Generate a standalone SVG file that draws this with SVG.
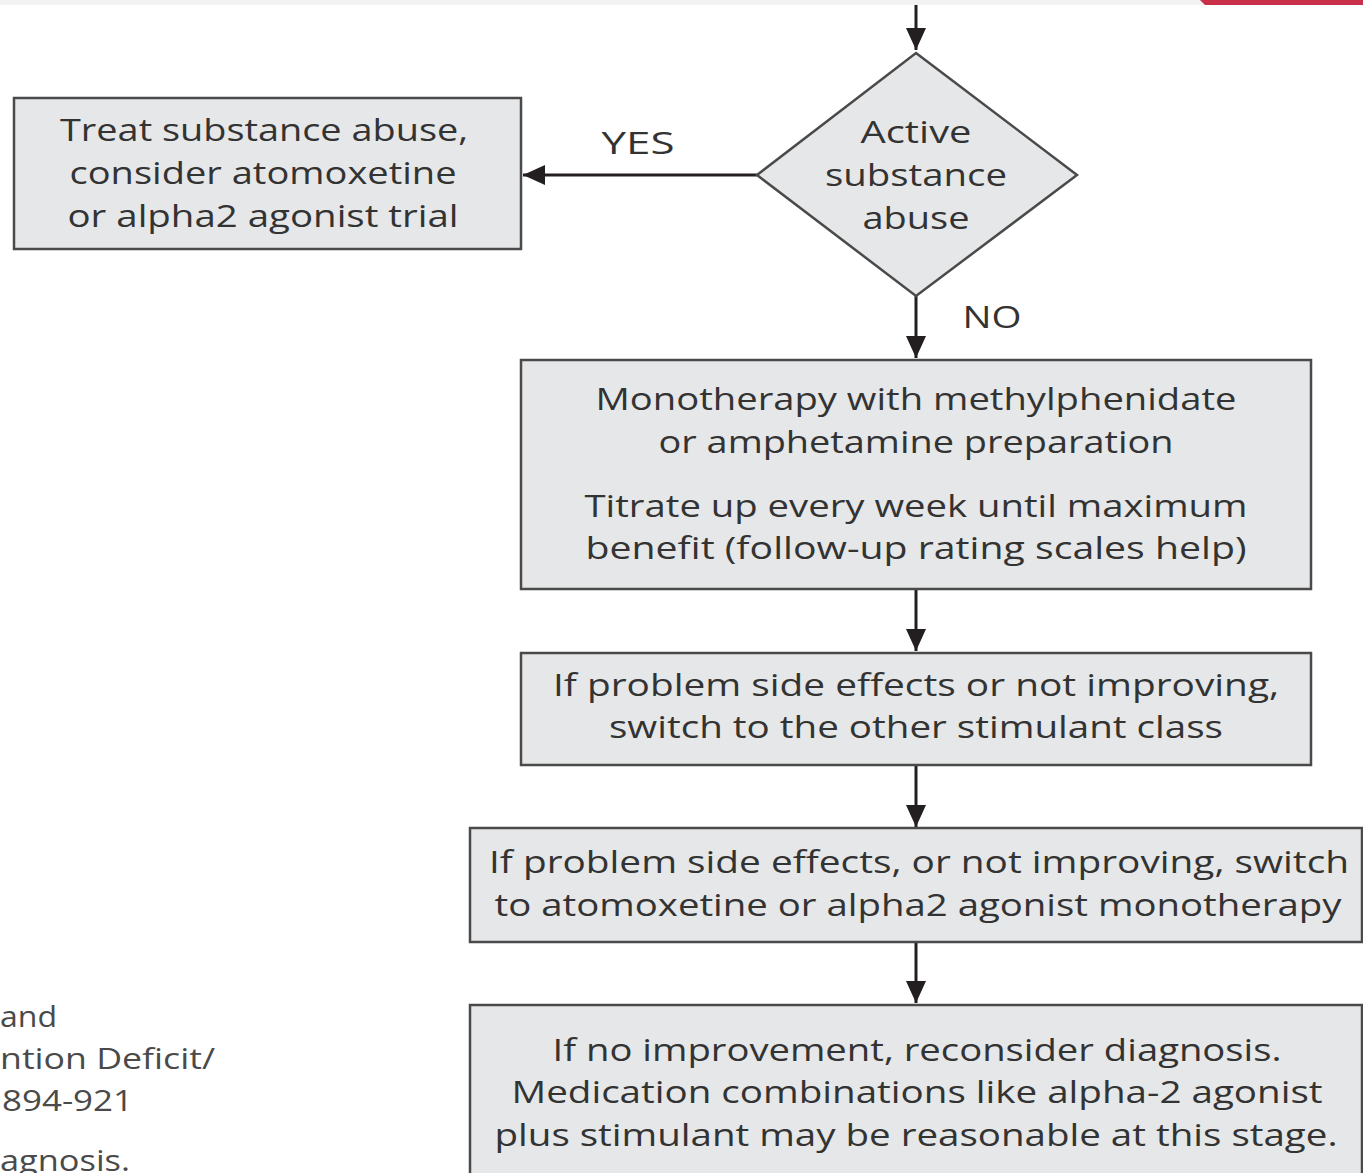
<svg xmlns="http://www.w3.org/2000/svg" width="1363" height="1173" viewBox="0 0 1363 1173">
<style>
.box{fill:#e6e7e8;stroke:#4a4a4a;stroke-width:2.5}
.t{font-family:"Open Sans","Noto Sans","Liberation Sans",sans-serif;font-size:31px;fill:#333333;text-anchor:middle}
.side{font-family:"Open Sans","Noto Sans","Liberation Sans",sans-serif;font-size:30px;fill:#4a4a4a}
.c{stroke:#231f20;stroke-width:3;fill:none}
</style>
<defs>
<marker id="ah" markerWidth="10" markerHeight="10" refX="9" refY="5" orient="auto" markerUnits="userSpaceOnUse" viewBox="0 0 10 10">
<path d="M0,0 L10,5 L0,10 Z" fill="#231f20"/>
</marker>
<marker id="a" viewBox="0 0 22 20" refX="22" refY="10" markerWidth="22" markerHeight="20" orient="auto" markerUnits="userSpaceOnUse">
<path d="M0,0 L22,10 L0,20 Z" fill="#231f20"/>
</marker>
</defs>
<rect width="1363" height="1173" fill="#ffffff"/>
<rect x="0" y="0" width="1363" height="5" fill="#f2f2f2"/>
<path d="M1200,0 L1363,0 L1363,5 L1205,5 Z" fill="#c8304a"/>

<g id="connectors">
<line class="c" x1="916" y1="5" x2="916" y2="50" marker-end="url(#a)"/>
<line class="c" x1="757" y1="175" x2="523" y2="175" marker-end="url(#a)"/>
<line class="c" x1="916" y1="296" x2="916" y2="358" marker-end="url(#a)"/>
<line class="c" x1="916" y1="589" x2="916" y2="651" marker-end="url(#a)"/>
<line class="c" x1="916" y1="765" x2="916" y2="827" marker-end="url(#a)"/>
<line class="c" x1="916" y1="942" x2="916" y2="1003" marker-end="url(#a)"/>
<text class="t" x="638" y="154" textLength="73" lengthAdjust="spacingAndGlyphs">YES</text>
<text class="t" x="992" y="328" textLength="59" lengthAdjust="spacingAndGlyphs">NO</text>
</g>

<g id="decision">
<polygon class="box" points="916,53 1077,175 916,296 757,175"/>
<text class="t" x="916" y="143" textLength="111" lengthAdjust="spacingAndGlyphs">Active</text>
<text class="t" x="916" y="186" textLength="182" lengthAdjust="spacingAndGlyphs">substance</text>
<text class="t" x="916" y="229" textLength="107" lengthAdjust="spacingAndGlyphs">abuse</text>
</g>

<g id="treat">
<rect class="box" x="14" y="98" width="507" height="151"/>
<text class="t" x="264" y="141" textLength="408" lengthAdjust="spacingAndGlyphs">Treat substance abuse,</text>
<text class="t" x="263" y="184" textLength="387" lengthAdjust="spacingAndGlyphs">consider atomoxetine</text>
<text class="t" x="263" y="227" textLength="391" lengthAdjust="spacingAndGlyphs">or alpha2 agonist trial</text>
</g>

<g id="mono">
<rect class="box" x="521" y="360" width="790" height="229"/>
<text class="t" x="916" y="410" textLength="641" lengthAdjust="spacingAndGlyphs">Monotherapy with methylphenidate</text>
<text class="t" x="916" y="453" textLength="515" lengthAdjust="spacingAndGlyphs">or amphetamine preparation</text>
<text class="t" x="916" y="517" textLength="663" lengthAdjust="spacingAndGlyphs">Titrate up every week until maximum</text>
<text class="t" x="916" y="559" textLength="661" lengthAdjust="spacingAndGlyphs">benefit (follow-up rating scales help)</text>
</g>

<g id="switch1">
<rect class="box" x="521" y="653" width="790" height="112"/>
<text class="t" x="916" y="696" textLength="726" lengthAdjust="spacingAndGlyphs">If problem side effects or not improving,</text>
<text class="t" x="916" y="738" textLength="614" lengthAdjust="spacingAndGlyphs">switch to the other stimulant class</text>
</g>

<g id="switch2">
<rect class="box" x="470" y="828" width="892" height="114"/>
<text class="t" x="919" y="873" textLength="860" lengthAdjust="spacingAndGlyphs">If problem side effects, or not improving, switch</text>
<text class="t" x="918" y="916" textLength="847" lengthAdjust="spacingAndGlyphs">to atomoxetine or alpha2 agonist monotherapy</text>
</g>

<g id="reconsider">
<rect class="box" x="470" y="1005" width="892" height="180"/>
<text class="t" x="917" y="1061" textLength="729" lengthAdjust="spacingAndGlyphs">If no improvement, reconsider diagnosis.</text>
<text class="t" x="917" y="1103" textLength="811" lengthAdjust="spacingAndGlyphs">Medication combinations like alpha-2 agonist</text>
<text class="t" x="916" y="1146" textLength="843" lengthAdjust="spacingAndGlyphs">plus stimulant may be reasonable at this stage.</text>
</g>

<text class="side" x="0" y="1027" textLength="57" lengthAdjust="spacingAndGlyphs">and</text>
<text class="side" x="0" y="1069" textLength="215" lengthAdjust="spacingAndGlyphs">ntion Deficit/</text>
<text class="side" x="2" y="1111" textLength="131" lengthAdjust="spacingAndGlyphs">894-921</text>
<text class="side" x="0" y="1171" textLength="130" lengthAdjust="spacingAndGlyphs">agnosis.</text>
</svg>
